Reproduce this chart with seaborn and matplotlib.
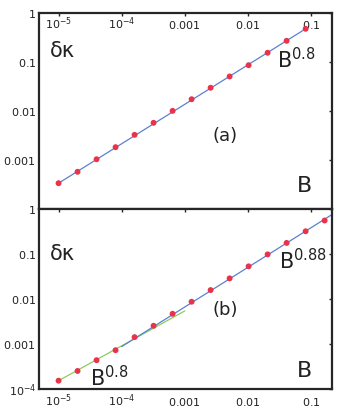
import numpy as np
import pandas as pd
import matplotlib
matplotlib.use("Agg")
import matplotlib.pyplot as plt
import seaborn as sns

# datos
B_a = [1e-5, 2e-5, 4e-5, 8e-5, 1.6e-4, 3.2e-4, 6.4e-4, 1.28e-3, 2.56e-3,
       5.12e-3, 1.024e-2, 2.048e-2, 4.096e-2, 8.192e-2]
dk_a = [3.44e-4, 5.88e-4, 1.06e-3, 1.87e-3, 3.34e-3, 5.88e-3, 1.03e-2,
        1.78e-2, 3.05e-2, 5.18e-2, 8.8e-2, 0.158, 0.277, 0.487]
fit_a_x = [1e-5, 8.192e-2]
fit_a_y = [3.44e-4, 0.487]

B_b = [1e-5, 2e-5, 4e-5, 8e-5, 1.6e-4, 3.2e-4, 6.4e-4, 1.28e-3, 2.56e-3,
       5.12e-3, 1.024e-2, 2.048e-2, 4.096e-2, 8.192e-2, 0.16384]
dk_b = [1.53e-4, 2.52e-4, 4.38e-4, 7.32e-4, 1.43e-3, 2.56e-3, 4.74e-3,
        8.79e-3, 1.60e-2, 2.92e-2, 5.41e-2, 0.100, 0.180, 0.327, 0.568]
fit_b_x = [1e-4, 0.215]
fit_b_y = [8.8e-4, 0.773]
fit_g_x = [1e-5, 1e-3]
fit_g_y = [1.53e-4, 5.5e-3]

xticks = [1e-5, 1e-4, 1e-3, 1e-2, 1e-1]
xlabels = [r"$\mathregular{10^{-5}}$", r"$\mathregular{10^{-4}}$",
           r"$\mathregular{0.001}$", r"$\mathregular{0.01}$", r"$\mathregular{0.1}$"]
yticks = [1e-4, 1e-3, 1e-2, 1e-1, 1]
ylabels_a = ["", r"$\mathregular{0.001}$", r"$\mathregular{0.01}$",
             r"$\mathregular{0.1}$", r"$\mathregular{1}$"]
ylabels_b = [r"$\mathregular{10^{-4}}$", r"$\mathregular{0.001}$",
             r"$\mathregular{0.01}$", r"$\mathregular{0.1}$", r"$\mathregular{1}$"]

sns.set_style("white")
plt.rcParams["font.family"] = ["DejaVu Sans"]
plt.rcParams["mathtext.fontset"] = "dejavusans"

fig = plt.figure(figsize=(3.42, 4.15), dpi=100)
ax1 = fig.add_axes([0.114, 0.4952, 0.857, 0.4723])
ax2 = fig.add_axes([0.114, 0.0627, 0.857, 0.4325])

blue = "#5b80d2"
green = "#8dcc5c"
red = "#e8334a"
frame = "#262626"
txt = "#222222"

sns.lineplot(x=fit_a_x, y=fit_a_y, ax=ax1, color=blue, lw=0.9)
sns.scatterplot(x=B_a, y=dk_a, ax=ax1, color=red, s=18, edgecolor="none", zorder=3)

sns.lineplot(x=fit_g_x, y=fit_g_y, ax=ax2, color=green, lw=0.9)
sns.lineplot(x=fit_b_x, y=fit_b_y, ax=ax2, color=blue, lw=0.9)
sns.scatterplot(x=B_b, y=dk_b, ax=ax2, color=red, s=18, edgecolor="none", zorder=3)

for ax in (ax1, ax2):
    ax.set_xscale("log")
    ax.set_yscale("log")
    ax.set_xlim(4.9e-6, 0.215)
    ax.set_ylim(1e-4, 1)
    ax.set_xticks(xticks)
    ax.set_yticks(yticks)
    ax.minorticks_off()
    for s in ax.spines.values():
        s.set_color(frame)
        s.set_linewidth(1.6)
    ax.tick_params(which="both", direction="in", top=True, right=True,
                   length=2.5, width=1, color=frame, labelsize=8,
                   labelcolor=txt)
    ax.tick_params(axis="y", pad=2)

ax1.set_xticklabels(xlabels)
ax1.set_yticklabels(ylabels_a)
ax1.tick_params(axis="x", labeltop=True, labelbottom=False, pad=-11)
for t in ax1.xaxis.get_major_ticks():
    t.label2.set_verticalalignment("baseline")
ax2.set_xticklabels(xlabels)
ax2.set_yticklabels(ylabels_b)
ax2.tick_params(axis="x", pad=4)
for t in ax2.xaxis.get_major_ticks():
    t.label1.set_verticalalignment("baseline")
ax2.tick_params(axis="x", pad=12)

# textos
ax1.text(0.038, 0.776, "δκ", transform=ax1.transAxes, fontsize=15, color=txt)
ax1.text(0.812, 0.72, "B$^{0.8}$", transform=ax1.transAxes, fontsize=15, color=txt)
ax1.text(0.635, 0.374, "(a)", transform=ax1.transAxes, fontsize=13,
         ha="center", va="center", color=txt)
ax1.text(0.88, 0.089, "B", transform=ax1.transAxes, fontsize=16, color=txt)

ax2.text(0.038, 0.72, "δκ", transform=ax2.transAxes, fontsize=15, color=txt)
ax2.text(0.82, 0.665, "B$^{0.88}$", transform=ax2.transAxes, fontsize=15, color=txt)
ax2.text(0.635, 0.44, "(b)", transform=ax2.transAxes, fontsize=13,
         ha="center", va="center", color=txt)
ax2.text(0.174, 0.015, "B$^{0.8}$", transform=ax2.transAxes, fontsize=15, color=txt)
ax2.text(0.88, 0.069, "B", transform=ax2.transAxes, fontsize=16, color=txt)

fig.savefig("out.png", dpi=100)
